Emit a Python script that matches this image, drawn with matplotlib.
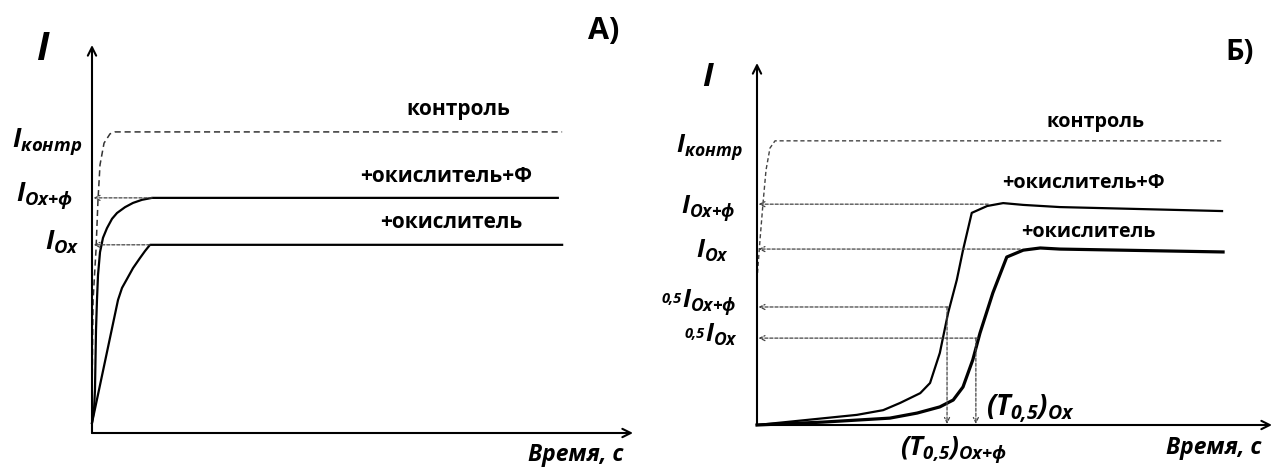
import matplotlib
matplotlib.use('Agg')
import matplotlib.pyplot as plt

plt.rcParams['font.family'] = ['Open Sans', 'DejaVu Sans']
plt.rcParams['mathtext.fontset'] = 'custom'
plt.rcParams['mathtext.it'] = 'Open Sans:italic:bold'
plt.rcParams['mathtext.rm'] = 'Open Sans:italic:bold'
plt.rcParams['mathtext.bf'] = 'Open Sans:italic:bold'

# ---------------- data (time, arbitrary units; current I, arbitrary units) ----------------
# Panel A
a_ctrl_t = [0.05, 0.2, 0.74, 1.11, 1.48, 2.22, 3.33, 4.25, 86.9]
a_ctrl_i = [15.0, 34.3, 47.2, 60.1, 69.1, 74.7, 77.1, 77.6, 77.6]
a_oxf_t = [0, 0.37, 0.55, 0.74, 0.92, 1.11, 1.48, 2.03, 2.77, 3.70, 4.62, 6.10, 7.58, 9.24, 11.09, 86.1]
a_oxf_i = [2.6, 5.9, 11.1, 26.5, 34.3, 40.7, 46.6, 50.3, 52.8, 55.2, 56.7, 58.2, 59.3, 60.1, 60.6, 60.6]
a_ox_t = [0, 4.81, 5.55, 6.47, 7.58, 8.87, 9.80, 10.72, 86.9]
a_ox_i = [2.6, 34.3, 37.4, 39.7, 42.5, 45.1, 46.9, 48.5, 48.5]
a_levels = [60.6, 48.5]          # I_Ox+ф, I_Ox
a_levels_t = [11.1, 10.7]        # where the dashed arrows start

# Panel B
b_ctrl_t = [0.0, 0.58, 1.17, 1.75, 2.52, 3.5, 90.3]
b_ctrl_i = [40.1, 51.1, 61.3, 70.4, 76.5, 78.5, 78.5]
b_oxf_t = [0, 9.7, 19.4, 24.5, 27.8, 31.7, 33.6, 35.5, 37.1, 38.8, 40.0, 41.7, 44.7, 47.8, 51.7, 58.8, 90.3]
b_oxf_i = [0, 1.4, 2.8, 4.1, 6.1, 8.8, 11.6, 19.9, 30.9, 40.1, 48.3, 58.6, 60.5, 61.3, 60.8, 60.2, 59.1]
b_ox_t = [0, 12.8, 25.8, 31.1, 35.5, 38.1, 40.0, 41.9, 43.3, 45.8, 48.5, 51.7, 55.0, 58.8, 90.5]
b_ox_i = [0, 0.8, 1.9, 3.3, 5.0, 6.9, 10.5, 18.0, 25.4, 36.5, 46.4, 48.3, 48.9, 48.6, 47.8]
b_levels = [61.0, 48.6, 32.6, 24.0]      # I_Ox+ф, I_Ox, 0,5 I_Ox+ф, 0,5 I_Ox
b_levels_t = [44.9, 51.1, 37.1, 42.9]
b_t05 = [36.9, 42.5]                      # (T0,5)Ox+ф, (T0,5)Ox
b_t05_i = [32.6, 24.0]

W, H = 1274, 468
fig = plt.figure(figsize=(W / 100, H / 100), dpi=100)
fig.patch.set_facecolor('white')


def box(l, t, r, b):
    return [l / W, 1 - b / H, (r - l) / W, (b - t) / H]


def ftext(x, y, s, **kw):
    return fig.text(x / W, 1 - y / H, s, **kw)


axA = fig.add_axes(box(92, 45, 633, 433))
axB = fig.add_axes(box(757, 63, 1272, 425))
for ax in (axA, axB):
    ax.set_xlim(0, 100)
    ax.set_ylim(0, 100)
    ax.axis('off')
    for xy in [(100, 0), (0, 100)]:
        ax.annotate('', xy=xy, xytext=(0, 0), annotation_clip=False,
                    arrowprops=dict(arrowstyle='->', lw=1.5, color='black',
                                    shrinkA=0, shrinkB=0, mutation_scale=15))

dash_ctrl = (0, (4, 2.5))
dash_arr = (0, (2.5, 1.5))

# Panel A curves
axA.plot(a_ctrl_t, a_ctrl_i, color='#333333', lw=1.1, linestyle=dash_ctrl, clip_on=False)
axA.plot(a_oxf_t, a_oxf_i, color='black', lw=1.6, clip_on=False)
axA.plot(a_ox_t, a_ox_i, color='black', lw=1.6, clip_on=False)
for lv, t0 in zip(a_levels, a_levels_t):
    axA.annotate('', xy=(0.3, lv), xytext=(t0, lv), annotation_clip=False,
                 arrowprops=dict(arrowstyle='->', lw=0.9, color='#444444', linestyle=dash_arr,
                                 shrinkA=0, shrinkB=0, mutation_scale=9))

# Panel B curves
axB.plot(b_ctrl_t, b_ctrl_i, color='#444444', lw=1.0, linestyle=(0, (3, 2)), clip_on=False)
axB.plot(b_oxf_t, b_oxf_i, color='black', lw=1.6, clip_on=False)
axB.plot(b_ox_t, b_ox_i, color='black', lw=2.3, clip_on=False)
for lv, t0 in zip(b_levels, b_levels_t):
    axB.annotate('', xy=(0.3, lv), xytext=(t0, lv), annotation_clip=False,
                 arrowprops=dict(arrowstyle='->', lw=0.9, color='#444444', linestyle=dash_arr,
                                 shrinkA=0, shrinkB=0, mutation_scale=9))
for t, lv in zip(b_t05, b_t05_i):
    axB.annotate('', xy=(t, 0.3), xytext=(t, lv), annotation_clip=False,
                 arrowprops=dict(arrowstyle='->', lw=0.9, color='#444444', linestyle=dash_arr,
                                 shrinkA=0, shrinkB=0, mutation_scale=9))

# ---------------- texts ----------------
bi = dict(fontweight='bold', fontstyle='italic')

# Panel A
ftext(43, 49, 'I', fontsize=28, ha='center', va='center', **bi)
ftext(604, 31, 'А)', fontsize=22, fontweight='bold', ha='center', va='center')
ftext(576, 455, 'Время, с', fontsize=16.5, ha='center', va='center', **bi)
ftext(458, 110, 'контроль', fontsize=15, fontweight='bold', ha='center', va='center')
ftext(446, 176, '+окислитель+Ф', fontsize=15, fontweight='bold', ha='center', va='center')
ftext(451, 223, '+окислитель', fontsize=15, fontweight='bold', ha='center', va='center')
ftext(12, 147, r'$I_{контр}$', fontsize=19, ha='left', va='baseline')
ftext(16, 202, r'$I_{Ox{+}ф}$', fontsize=19, ha='left', va='baseline')
ftext(45, 250, r'$I_{Ox}$', fontsize=19, ha='left', va='baseline')

# Panel B
ftext(708, 77, 'I', fontsize=24, ha='center', va='center', **bi)
ftext(1240, 52, 'Б)', fontsize=21, fontweight='bold', ha='center', va='center')
ftext(1214, 448, 'Время, с', fontsize=16.5, ha='center', va='center', **bi)
ftext(1095, 122, 'контроль', fontsize=14.2, fontweight='bold', ha='center', va='center')
ftext(1083, 183, '+окислитель+Ф', fontsize=14.2, fontweight='bold', ha='center', va='center')
ftext(1088, 232, '+окислитель', fontsize=14.2, fontweight='bold', ha='center', va='center')
ftext(676, 152, r'$I_{контр}$', fontsize=18, ha='left', va='baseline')
ftext(681, 213, r'$I_{Ox{+}ф}$', fontsize=18, ha='left', va='baseline')
ftext(696, 258, r'$I_{Ox}$', fontsize=18, ha='left', va='baseline')
ftext(682, 303, '0,5', fontsize=10.5, ha='right', va='baseline', **bi)
ftext(682, 307, r'$I_{Ox{+}ф}$', fontsize=18, ha='left', va='baseline')
ftext(705, 338, '0,5', fontsize=10.5, ha='right', va='baseline', **bi)
ftext(705, 342, r'$I_{Ox}$', fontsize=18, ha='left', va='baseline')
ftext(986, 415, r'$(T_{0{,}5})_{Ox}$', fontsize=20, ha='left', va='baseline')
ftext(900, 455, r'$(T_{0{,}5})_{Ox{+}ф}$', fontsize=19, ha='left', va='baseline')

fig.savefig('out.png', dpi=100, facecolor='white')
